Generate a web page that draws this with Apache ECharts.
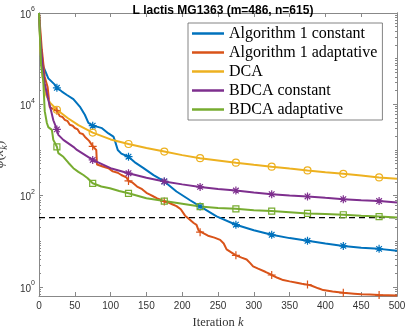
<!DOCTYPE html>
<html>
<head>
<meta charset="utf-8">
<script src="https://cdn.jsdelivr.net/npm/echarts@6/dist/echarts.min.js"></script>
<style>
html,body{margin:0;padding:0;background:#fff;}
#chart{width:407px;height:327px;}
</style>
</head>
<body>
<div id="chart"></div>
<script>
var names = ['Algorithm 1 constant','Algorithm 1 adaptative','DCA','BDCA constant','BDCA adaptative'];
var colors = ['#0072BD','#D95319','#EDB120','#7E2F8E','#77AC30'];

// Algorithm 1 constant
var itA1c = [0,2,6,13,22,25,32,39,48,57,64,69,75,82,88,97,104,106,110,115,125,135,146,160,175,192,211,225,248,275,300,325,350,375,400,425,450,475,500];
var valA1c = [1000000,200000,68000,37000,27000,23000,19000,16000,13000,8900,5900,3900,3400,3200,3000,2300,1950,1600,1000,830,710,520,400,280,204,123,79,58,35,23,17.4,13.8,11.7,10.2,8.9,7.9,7.2,6.8,6.2];

// Algorithm 1 adaptative
var itA1a = [0,2,4,8,12,15,22,25,29,33,36,40,43,47,50,54,57,61,64,70,75,80,81,85,90,97,103,110,115,122,125,130,137,144,150,155,160,165,170,175,180,186,192,198,204,210,216,220,223,225,230,236,245,253,258,262,268,275,283,290,295,299,306,316,320,325,333,341,350,360,367,375,380,390,397,410,425,440,450,462,475,488,500];
var valA1a = [1000000,398000,155000,39800,24000,8700,7590,7240,5500,5250,4570,4270,3550,3390,3020,2820,2340,2240,1950,1580,1200,1000,479,457,427,398,339,316,282,251,209,195,158,138,115,105,95.5,87.1,81.3,74.1,70.8,64.6,58.9,50.1,36.3,30.2,25.1,22.9,17.0,15.8,14.8,13.2,12.0,10.7,8.91,6.61,5.75,4.90,4.37,3.98,3.31,2.82,2.51,2.14,2.0,1.82,1.58,1.41,1.32,1.23,1.17,1.12,1.07,0.93,0.85,0.79,0.74,0.71,0.69,0.68,0.66,0.655,0.65];

// DCA
var itDCA = [0,2,5,10,15,25,40,55,75,100,125,150,175,200,225,250,275,300,325,350,375,400,425,450,475,500];
var valDCA = [1000000,160000,40000,16000,11000,7600,5000,3500,2400,1700,1350,1100,920,770,660,590,525,475,430,390,355,325,300,275,250,235];

// BDCA constant
var itBc = [0,2,5,8,13,17,20,25,27,34,48,53,75,100,125,150,175,200,225,250,275,300,325,350,375,400,425,450,475,500];
var valBc = [1000000,251000,67600,28200,12600,7080,4470,2820,2140,1660,1170,1000,603,398,309,245,204,176,155,140,129,117,107,100,95.5,89.1,83.2,79.4,75.9,70.8];

// BDCA adaptative
var itBa = [0,3,6,8,11,13,18,20,25,27,34,41,48,55,62,68,75,87,99,112,125,150,175,200,225,250,275,300,325,350,375,400,425,450,475,500];
var valBa = [1000000,70800,31600,7080,3890,3160,2750,1660,1170,851,708,525,398,331,282,240,186,158,145,126,112,87.1,75.9,66.1,57.5,53.7,51.3,47.9,45.7,43.2,40.7,39.4,38.0,36.3,34.7,33.1];

var markIters = [25,75,125,175,225,275,325,375,425,475];
var refLevel = 33;
var xMax = 500;
var yMajor = [1,100,10000,1000000];
var yMin = -0.2, yMax = 6;

function lg(v){ return Math.log10(v); }

var majorLog = yMajor.map(lg);
var minorLog = [];
for (var e = -1; e < 6; e++) {
  for (var k = 1; k < 10; k++) {
    var v = e + lg(k);
    if (v < yMin || v > yMax) continue;
    if (k === 1 && e % 2 === 0) continue;
    minorLog.push(v);
  }
}

var axisCol = '#888';
var labCol = '#333';

function yAx(pos, vals, len, withLabel) {
  var ax = {
    type: 'value', position: pos, min: yMin, max: yMax,
    axisLine: {show: true, lineStyle: {color: axisCol, width: 1}},
    splitLine: {show: false},
    axisTick: {show: true, inside: true, length: len, customValues: vals, lineStyle: {color: axisCol}},
    axisLabel: {show: false}
  };
  if (withLabel) {
    ax.axisLabel = {
      show: true, customValues: majorLog, margin: 4, color: labCol,
      fontFamily: 'Liberation Sans', fontSize: 10,
      formatter: function (v) { return '{b|10}{s|' + Math.round(v) + '}'; },
      rich: {
        b: {fontSize: 10, fontFamily: 'Liberation Sans', color: labCol, lineHeight: 14, verticalAlign: 'bottom'},
        s: {fontSize: 7, fontFamily: 'Liberation Sans', color: labCol, lineHeight: 14, verticalAlign: 'top'}
      }
    };
    ax.name = '{i|\u03c6}{n|(}{i|x}{sub|k}{n|)}';
    ax.nameLocation = 'middle';
    ax.nameGap = 21;
    ax.nameRotate = 90;
    ax.nameTextStyle = {
      color: '#444',
      rich: {
        i: {fontFamily: 'Liberation Serif', fontStyle: 'italic', fontSize: 14, color: '#444'},
        n: {fontFamily: 'Liberation Serif', fontSize: 14, color: '#444'},
        sub: {fontFamily: 'Liberation Serif', fontStyle: 'italic', fontSize: 10, color: '#444', verticalAlign: 'bottom', lineHeight: 19}
      }
    };
  }
  return ax;
}

var asterisk = 'path://M0,-1L0,1M-1,0L1,0M-0.7,-0.7L0.7,0.7M-0.7,0.7L0.7,-0.7';
var plus = 'path://M0,-1L0,1M-1,0L1,0';

function mk(i, its, vals, sym, size) {
  return {
    name: names[i], type: 'line',
    data: its.map(function (x, j) { return [x, lg(vals[j])]; }),
    lineStyle: {color: colors[i], width: 2},
    itemStyle: {color: 'rgba(0,0,0,0)', borderColor: colors[i], borderWidth: 1.2},
    symbol: function (val) { return markIters.indexOf(val[0]) >= 0 ? sym : 'none'; },
    symbolSize: size,
    showAllSymbol: true,
    emphasis: {disabled: true},
    silent: true
  };
}

var series = [
  mk(0, itA1c, valA1c, asterisk, 8),
  mk(1, itA1a, valA1a, plus, 8),
  mk(2, itDCA, valDCA, 'circle', 7),
  mk(3, itBc, valBc, asterisk, 8),
  mk(4, itBa, valBa, 'rect', 6),
  {
    type: 'line', silent: true, symbol: 'none',
    data: [[0, lg(refLevel)], [xMax, lg(refLevel)]],
    lineStyle: {color: '#000', width: 1.2, type: [6, 4]},
    z: 1
  }
];

var myChart = echarts.init(document.getElementById('chart'));
var option = {
  animation: false,
  backgroundColor: '#fff',
  title: {
    text: 'L lactis MG1363 (m=486, n=615)',
    left: 218, top: 0, textAlign: 'center',
    textStyle: {fontFamily: 'Liberation Sans', fontSize: 12, fontWeight: 'bold', color: '#000'}
  },
  grid: {left: 39, right: 10, top: 13, bottom: 31, containLabel: false, outerBoundsMode: 'none'},
  legend: {
    orient: 'vertical', left: 188, top: 23,
    icon: 'rect', itemWidth: 32, itemHeight: 2.5, itemGap: 2,
    padding: [2, 5, 2, 4],
    backgroundColor: '#fff', borderColor: '#666', borderWidth: 0.8, borderRadius: 0,
    selectedMode: false,
    textStyle: {fontFamily: 'Liberation Serif', fontSize: 16, color: '#000', lineHeight: 17},
    data: names.map(function (n, i) { return {name: n, itemStyle: {color: colors[i], borderWidth: 0}}; })
  },
  xAxis: [
    {
      type: 'value', position: 'bottom', min: 0, max: xMax, interval: 50,
      axisLine: {show: true, onZero: false, lineStyle: {color: axisCol}},
      axisTick: {show: true, inside: true, length: 4, lineStyle: {color: axisCol}},
      splitLine: {show: false},
      axisLabel: {color: labCol, fontFamily: 'Liberation Sans', fontSize: 10, margin: 5},
      name: '{n|Iteration }{i|k}', nameLocation: 'middle', nameGap: 16,
      nameTextStyle: {
        rich: {
          n: {fontFamily: 'Liberation Serif', fontSize: 12.5, color: '#333'},
          i: {fontFamily: 'Liberation Serif', fontStyle: 'italic', fontSize: 12.5, color: '#333'}
        }
      }
    },
    {
      type: 'value', position: 'top', min: 0, max: xMax, interval: 50,
      axisLine: {show: true, onZero: false, lineStyle: {color: axisCol}},
      axisTick: {show: true, inside: true, length: 4, lineStyle: {color: axisCol}},
      splitLine: {show: false},
      axisLabel: {show: false}
    }
  ],
  yAxis: [
    yAx('left', majorLog, 4, true),
    yAx('left', minorLog, 2, false),
    yAx('right', majorLog, 4, false),
    yAx('right', minorLog, 2, false)
  ],
  series: series
};
if (option && typeof option === 'object') {
  myChart.setOption(option, true);
}
</script>
</body>
</html>
